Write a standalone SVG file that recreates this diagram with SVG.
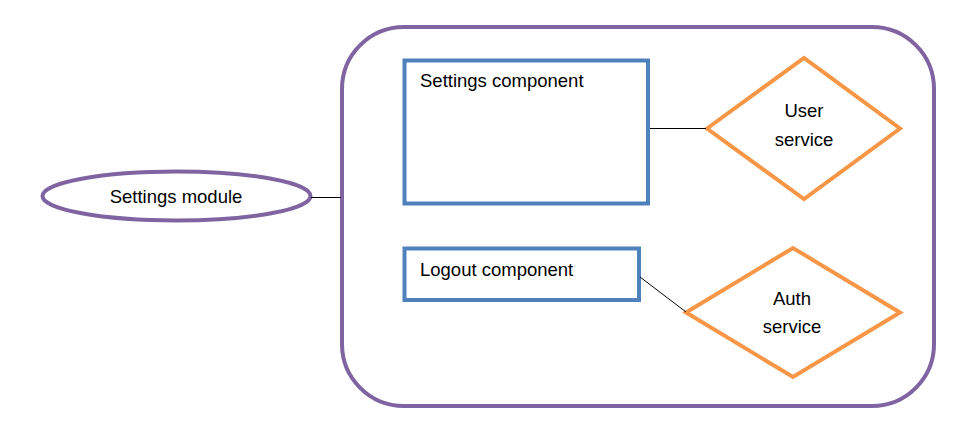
<svg xmlns="http://www.w3.org/2000/svg" width="958" height="422" viewBox="0 0 958 422">
<style>
text{font-family:"Liberation Sans",Arial,sans-serif;font-size:18.5px;fill:#000}
.mid{text-anchor:middle}
.purple{fill:#fff;stroke:#8064A2;stroke-width:4}
.blue{fill:#fff;stroke:#4F81BD;stroke-width:4}
.orange{fill:#fff;stroke:#F79646;stroke-width:4}
.conn{stroke:#000;stroke-width:1;fill:none}
</style>
<rect width="958" height="422" fill="#fff"/>
<g id="container"><rect class="purple" x="342" y="27" width="592" height="379" rx="62" ry="62"/></g>
<g id="settings-module"><ellipse class="purple" cx="176.5" cy="196" rx="134" ry="24.5"/><text class="mid" x="176" y="203">Settings module</text></g>
<g id="settings-component"><rect class="blue" x="404.5" y="60.5" width="243.5" height="143"/><text x="420" y="87">Settings component</text></g>
<g id="logout-component"><rect class="blue" x="404.5" y="248.5" width="234.5" height="51.5"/><text x="420" y="276">Logout component</text></g>
<g id="user-service"><polygon class="orange" points="707,128.5 804,58 900,128.5 804,199"/><text class="mid" x="804" y="117">User</text><text class="mid" x="804" y="146">service</text></g>
<g id="auth-service"><polygon class="orange" points="686,312.5 793,248 900,312.5 793,377"/><text class="mid" x="792" y="305">Auth</text><text class="mid" x="792" y="333">service</text></g>
<g id="connectors">
<line class="conn" x1="311" y1="197.5" x2="341" y2="197.5"/>
<line class="conn" x1="650" y1="128.5" x2="706" y2="128.5"/>
<line class="conn" x1="640" y1="277" x2="686" y2="312"/>
</g>
</svg>
